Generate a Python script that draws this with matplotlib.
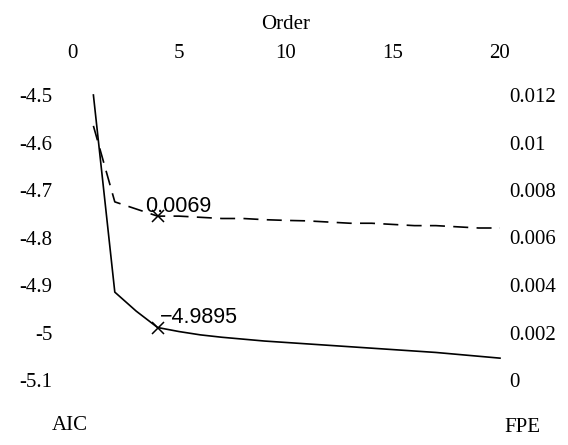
import numpy as np
import matplotlib.pyplot as plt

plt.rcParams['axes.unicode_minus'] = False

# model order and the two criteria
order = list(range(1, 21))
aic = [-4.50, -4.915, -4.955, -4.9895, -4.998, -5.005, -5.010, -5.014, -5.018, -5.021,
       -5.024, -5.027, -5.030, -5.033, -5.036, -5.039, -5.042, -5.046, -5.050, -5.054]
fpe = [0.0107, 0.0075, 0.0072, 0.0069, 0.0069, 0.00685, 0.0068, 0.0068, 0.00675, 0.00672,
       0.0067, 0.00665, 0.0066, 0.0066, 0.00655, 0.0065, 0.0065, 0.00645, 0.0064, 0.0064]

best_order = 4
best_aic = -4.9895
best_fpe = 0.0069

x_ticks = [0, 5, 10, 15, 20]
aic_ticks = [-4.5, -4.6, -4.7, -4.8, -4.9, -5.0, -5.1]
aic_labels = ['-4.5', '-4.6', '-4.7', '-4.8', '-4.9', '-5', '-5.1']
fpe_ticks = [0, 0.002, 0.004, 0.006, 0.008, 0.01, 0.012]
fpe_labels = ['0', '0.002', '0.004', '0.006', '0.008', '0.01', '0.012']

serif = 'Liberation Serif'
sans = 'Liberation Sans'

fig = plt.figure(figsize=(5.68, 4.45), dpi=100)
ax = fig.add_axes([72 / 568, 1 - 380 / 445, (500 - 72) / 568, (380 - 95) / 445])
ax2 = ax.twinx()

ax.plot(order, aic, color='black', lw=1.2, clip_on=False)
ax.plot([best_order], [best_aic], 'x', color='black', ms=9, mew=1.1)
ax.annotate('\u22124.9895', (best_order, best_aic), xytext=(2, 3), textcoords='offset points',
            ha='left', va='baseline', fontsize=15.5, family=sans)

ax2.plot(order, fpe, color='black', lw=1.2, dashes=(9, 5), clip_on=False)
ax2.plot([best_order], [best_fpe], 'x', color='black', ms=9, mew=1.1)
ax2.annotate('0.0069', (best_order, best_fpe), xytext=(-9, 3), textcoords='offset points',
             ha='left', va='baseline', fontsize=15.5, family=sans)

ax.set_xlim(0, 20)
ax.set_ylim(-5.1, -4.5)
ax2.set_ylim(0, 0.012)

ax.xaxis.tick_top()
ax.xaxis.set_label_position('top')
ax.set_xticks(x_ticks)
ax.set_xticklabels([str(t) for t in x_ticks], family=serif, fontsize=15)
ax.set_xlabel('Order', family=serif, fontsize=15, labelpad=11)
ax.set_yticks(aic_ticks)
ax.set_yticklabels(aic_labels, family=serif, fontsize=15)
ax2.set_yticks(fpe_ticks)
ax2.set_yticklabels(fpe_labels, family=serif, fontsize=15)

ax.tick_params(axis='x', length=0, pad=23)
ax.tick_params(axis='y', length=0, pad=14)
ax2.tick_params(axis='y', length=0, pad=7)

for a in (ax, ax2):
    for s in a.spines.values():
        s.set_visible(False)

fig.text(70 / 568, 1 - 425 / 445, 'AIC', ha='center', va='center', family=serif, fontsize=15)
fig.text(522 / 568, 1 - 428 / 445, 'FPE', ha='center', va='center', family=serif, fontsize=15)

fig.savefig('out.png', dpi=100)
